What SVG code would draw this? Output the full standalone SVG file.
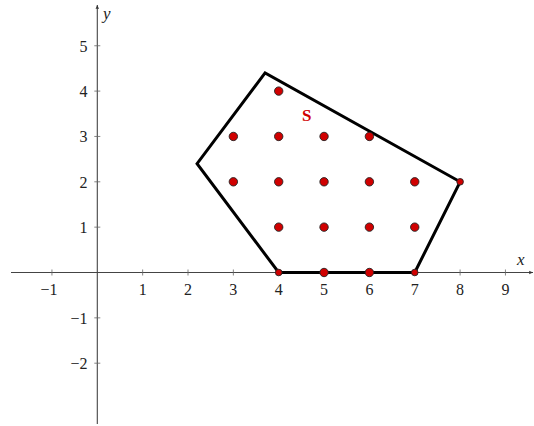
<svg xmlns="http://www.w3.org/2000/svg" width="534" height="426" viewBox="0 0 534 426">
<defs>
<marker id="arr" viewBox="0 0 10 10" refX="9" refY="5" markerWidth="5" markerHeight="5" orient="auto" markerUnits="userSpaceOnUse">
<path d="M1,1.5 L9,5 L1,8.5 Q3,5 1,1.5 Z" fill="#333"/>
</marker>
<style>
.ax{stroke:#444;stroke-width:1.1;fill:none}
.tk{stroke:#666;stroke-width:0.8}
.dot{fill:#d00000;stroke:#222;stroke-width:0.9}
.poly{fill:none;stroke:#000;stroke-width:3;stroke-linejoin:miter}
</style>
</defs>
<rect width="534" height="426" fill="#fff"/>
<g id="axes">
<line class="ax" x1="11" y1="272.5" x2="533" y2="272.5" marker-end="url(#arr)"/>
<line class="ax" x1="97.3" y1="424" x2="97.3" y2="5" marker-end="url(#arr)"/>
<g class="tk">
<line x1="51.95" y1="269.5" x2="51.95" y2="275.5"/>
<line x1="142.65" y1="269.5" x2="142.65" y2="275.5"/>
<line x1="188" y1="269.5" x2="188" y2="275.5"/>
<line x1="233.35" y1="269.5" x2="233.35" y2="275.5"/>
<line x1="278.7" y1="269.5" x2="278.7" y2="275.5"/>
<line x1="324.05" y1="269.5" x2="324.05" y2="275.5"/>
<line x1="369.4" y1="269.5" x2="369.4" y2="275.5"/>
<line x1="414.75" y1="269.5" x2="414.75" y2="275.5"/>
<line x1="460.1" y1="269.5" x2="460.1" y2="275.5"/>
<line x1="505.45" y1="269.5" x2="505.45" y2="275.5"/>
<line x1="94.3" y1="45.75" x2="100.3" y2="45.75"/>
<line x1="94.3" y1="91.1" x2="100.3" y2="91.1"/>
<line x1="94.3" y1="136.45" x2="100.3" y2="136.45"/>
<line x1="94.3" y1="181.8" x2="100.3" y2="181.8"/>
<line x1="94.3" y1="227.15" x2="100.3" y2="227.15"/>
<line x1="94.3" y1="317.85" x2="100.3" y2="317.85"/>
<line x1="94.3" y1="363.2" x2="100.3" y2="363.2"/>
</g>
<g font-family="'Liberation Serif','DejaVu Serif',serif" font-size="16" fill="#222" text-anchor="middle">
<text x="49" y="294.5">−1</text>
<text x="142.65" y="294.5">1</text>
<text x="188" y="294.5">2</text>
<text x="233.35" y="294.5">3</text>
<text x="278.7" y="294.5">4</text>
<text x="324.05" y="294.5">5</text>
<text x="369.4" y="294.5">6</text>
<text x="414.75" y="294.5">7</text>
<text x="460.1" y="294.5">8</text>
<text x="505.45" y="294.5">9</text>
</g>
<g font-family="'Liberation Serif','DejaVu Serif',serif" font-size="16" fill="#222" text-anchor="end">
<text x="87.5" y="51.5">5</text>
<text x="87.5" y="96.8">4</text>
<text x="87.5" y="142.2">3</text>
<text x="87.5" y="187.5">2</text>
<text x="87.5" y="232.8">1</text>
<text x="87.5" y="323.5">−1</text>
<text x="87.5" y="368.9">−2</text>
</g>
<g font-family="'Liberation Serif','DejaVu Serif',serif" font-size="17" font-style="italic" fill="#222">
<text x="103" y="19">y</text>
<text x="517" y="265">x</text>
</g>
</g>
<g id="connectors">
<polygon id="region" class="poly" points="265.1,72.96 197.07,163.66 278.7,272.5 414.75,272.5 460.1,181.8"/>
</g>
<g id="points">
<circle class="dot" cx="278.7" cy="91.1" r="4.2"/>
<circle class="dot" cx="233.35" cy="136.45" r="4.2"/>
<circle class="dot" cx="278.7" cy="136.45" r="4.2"/>
<circle class="dot" cx="324.05" cy="136.45" r="4.2"/>
<circle class="dot" cx="369.4" cy="136.45" r="4.2"/>
<circle class="dot" cx="233.35" cy="181.8" r="4.2"/>
<circle class="dot" cx="278.7" cy="181.8" r="4.2"/>
<circle class="dot" cx="324.05" cy="181.8" r="4.2"/>
<circle class="dot" cx="369.4" cy="181.8" r="4.2"/>
<circle class="dot" cx="414.75" cy="181.8" r="4.2"/>
<circle class="dot" cx="460.1" cy="181.8" r="3.3"/>
<circle class="dot" cx="278.7" cy="227.15" r="4.2"/>
<circle class="dot" cx="324.05" cy="227.15" r="4.2"/>
<circle class="dot" cx="369.4" cy="227.15" r="4.2"/>
<circle class="dot" cx="414.75" cy="227.15" r="4.2"/>
<circle class="dot" cx="278.7" cy="272.5" r="3.3"/>
<circle class="dot" cx="324.05" cy="272.5" r="4.2"/>
<circle class="dot" cx="369.4" cy="272.5" r="4.2"/>
<circle class="dot" cx="414.75" cy="272.5" r="3.3"/>
</g>
<g id="label-S">
<text x="306.7" y="120.5" text-anchor="middle" font-family="'Liberation Serif','DejaVu Serif',serif" font-weight="bold" font-size="17" fill="#d00000">S</text>
</g>
</svg>
